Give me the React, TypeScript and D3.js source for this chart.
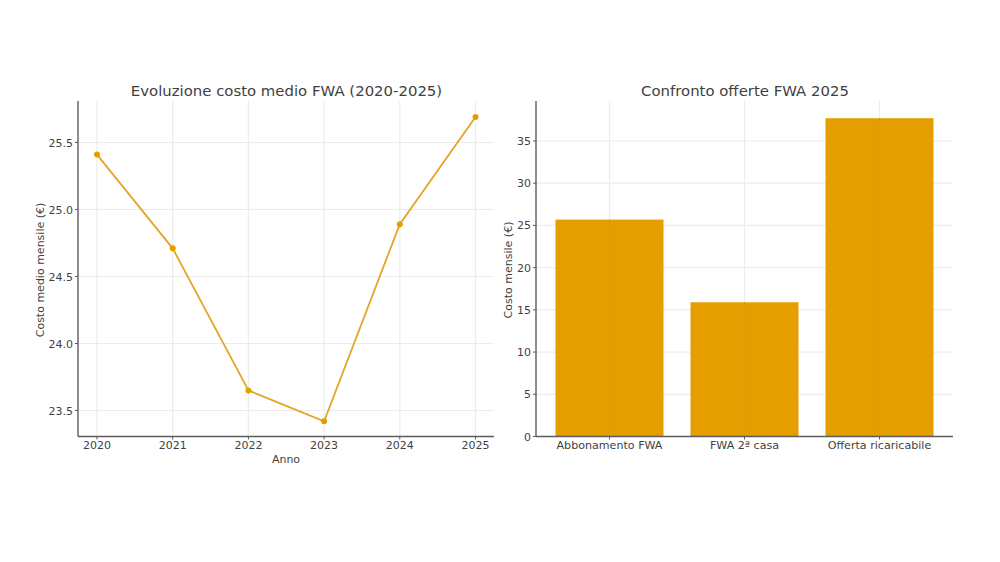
import React from "react";
import * as d3 from "d3";

const years = [2020, 2021, 2022, 2023, 2024, 2025];
const avgCost = [25.41, 24.71, 23.65, 23.42, 24.89, 25.69];
const lineTicks = [23.5, 24.0, 24.5, 25.0, 25.5];
const offers = ["Abbonamento FWA", "FWA 2ª casa", "Offerta ricaricabile"];
const offerCost = [25.69, 15.9, 37.7];
const barTicks = [0, 5, 10, 15, 20, 25, 30, 35];

const FONT = "'DejaVu Sans', sans-serif";
const ORANGE = "#E49E00";
const TXT = "#3f3f3f";
const SPINE = "#5c5c5c";
const GRID = "#ececec";

const top = 101, bottom = 436.5;

export default function App() {
  const x1 = d3.scaleLinear().domain([2020, 2025]).range([97, 475.5]);
  const y1 = d3.scaleLinear().domain([23.5, 25.5]).range([410.5, 142.5]);
  const line = d3.line<number>().x((_, i) => x1(years[i])).y(d => y1(d));
  const x2 = d3.scaleBand<string>().domain(offers).range([542, 947]).paddingInner(0.2).paddingOuter(0.1);
  const y2 = d3.scaleLinear().domain([0, 35]).range([bottom, 141]);
  const bw = x2.bandwidth();
  return (
    <svg width={1000} height={562} style={{ position: "absolute", left: 0, top: 0, background: "#fff" }} fontFamily={FONT}>
      {/* left panel */}
      {years.map(y => (
        <line key={y} x1={x1(y)} x2={x1(y)} y1={top} y2={bottom} stroke={GRID} strokeWidth={1.2} />
      ))}
      {lineTicks.map(t => (
        <line key={t} x1={78} x2={494} y1={y1(t)} y2={y1(t)} stroke={GRID} strokeWidth={1.2} />
      ))}
      <path d={line(avgCost) ?? ""} fill="none" stroke="#E2A528" strokeWidth={1.8} />
      {avgCost.map((v, i) => (
        <circle key={i} cx={x1(years[i])} cy={y1(v)} r={3} fill={ORANGE} />
      ))}
      <line x1={78} x2={78} y1={top} y2={bottom} stroke={SPINE} strokeWidth={1.4} />
      <line x1={78} x2={494} y1={bottom} y2={bottom} stroke={SPINE} strokeWidth={1.4} />
      {lineTicks.map(t => (
        <g key={t}>
          <line x1={75} x2={78} y1={y1(t)} y2={y1(t)} stroke={SPINE} />
          <text x={73} y={y1(t) + 4} textAnchor="end" fontSize={11} fill={TXT}>{t.toFixed(1)}</text>
        </g>
      ))}
      {years.map(y => (
        <g key={y}>
          <line x1={x1(y)} x2={x1(y)} y1={bottom} y2={bottom + 3} stroke={SPINE} />
          <text x={x1(y)} y={449} textAnchor="middle" fontSize={11} fill={TXT}>{y}</text>
        </g>
      ))}
      <text x={286} y={463} textAnchor="middle" fontSize={11} fill={TXT}>Anno</text>
      <text transform="translate(44,270) rotate(-90)" textAnchor="middle" fontSize={11} fill={TXT}>Costo medio mensile (€)</text>
      <text x={286.5} y={96} textAnchor="middle" fontSize={14.9} fill={TXT}>Evoluzione costo medio FWA (2020-2025)</text>

      {/* right panel */}
      {offers.map(o => (
        <line key={o} x1={x2(o)! + bw / 2} x2={x2(o)! + bw / 2} y1={top} y2={bottom} stroke={GRID} strokeWidth={1.2} />
      ))}
      {barTicks.map(t => (
        <line key={t} x1={536} x2={953} y1={y2(t)} y2={y2(t)} stroke={GRID} strokeWidth={1.2} />
      ))}
      {offers.map((o, i) => (
        <rect key={o} x={x2(o)} y={y2(offerCost[i])} width={bw} height={bottom - y2(offerCost[i])} fill={ORANGE} />
      ))}
      {offers.map((o, i) => (
        <line key={o} x1={x2(o)! + bw / 2} x2={x2(o)! + bw / 2} y1={y2(offerCost[i])} y2={bottom} stroke="#dd9c0c" />
      ))}
      <line x1={536} x2={536} y1={top} y2={bottom} stroke={SPINE} strokeWidth={1.4} />
      <line x1={536} x2={953} y1={bottom} y2={bottom} stroke={SPINE} strokeWidth={1.4} />
      {barTicks.map(t => (
        <g key={t}>
          <line x1={533} x2={536} y1={y2(t)} y2={y2(t)} stroke={SPINE} />
          <text x={531} y={y2(t) + 4} textAnchor="end" fontSize={11} fill={TXT}>{t}</text>
        </g>
      ))}
      {offers.map(o => (
        <g key={o}>
          <line x1={x2(o)! + bw / 2} x2={x2(o)! + bw / 2} y1={bottom} y2={bottom + 3} stroke={SPINE} />
          <text x={x2(o)! + bw / 2} y={449} textAnchor="middle" fontSize={11.1} fill={TXT}>{o}</text>
        </g>
      ))}
      <text transform="translate(512,270) rotate(-90)" textAnchor="middle" fontSize={11} fill={TXT}>Costo mensile (€)</text>
      <text x={745} y={96} textAnchor="middle" fontSize={14.9} fill={TXT}>Confronto offerte FWA 2025</text>
    </svg>
  );
}
